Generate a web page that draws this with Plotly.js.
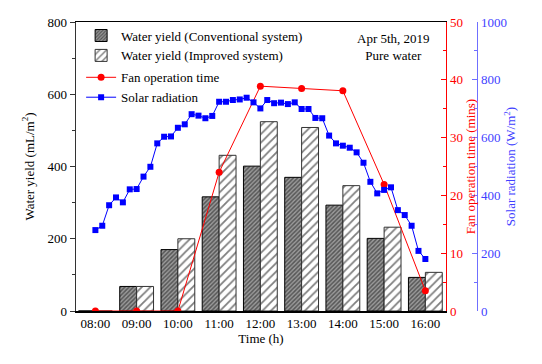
<!DOCTYPE html>
<html>
<head>
<meta charset="utf-8">
<script src="https://cdn.plot.ly/plotly-3.0.1.min.js"></script>
<style>
  html, body { margin: 0; padding: 0; background: #fff; }
  #graph { width: 542px; height: 364px; }
</style>
</head>
<body>
<div id="graph"></div>
<script>
const day = '2019-04-05 '

// hourly readings
const hours = ['08:00', '09:00', '10:00', '11:00', '12:00', '13:00', '14:00', '15:00', '16:00']
const conventional = [0, 68, 170, 316, 401, 370, 293, 201, 93]
const improved = [0, 68, 200, 431, 524, 508, 347, 232, 107]
const fanTime = [0, 0, 0, 24.0, 38.9, 38.5, 38.1, 21.9, 3.5]

// solar radiation every 10 min
const solarTimes = [
  '08:00', '08:10', '08:20', '08:30', '08:40', '08:50',
  '09:00', '09:10', '09:20', '09:30', '09:40', '09:50',
  '10:00', '10:10', '10:20', '10:30', '10:40', '10:50',
  '11:00', '11:10', '11:20', '11:30', '11:40', '11:50',
  '12:00', '12:10', '12:20', '12:30', '12:40', '12:50',
  '13:00', '13:10', '13:20', '13:30', '13:40', '13:50',
  '14:00', '14:10', '14:20', '14:30', '14:40', '14:50',
  '15:00', '15:10', '15:20', '15:30', '15:40', '15:50',
  '16:00'
]
const solar = [
  280, 295, 366, 393, 376, 421, 422, 465, 499, 580,
  603, 604, 634, 646, 681, 676, 667, 675, 724, 724,
  730, 732, 738, 722, 701, 730, 719, 721, 716, 722,
  699, 699, 668, 667, 607, 580, 572, 565, 549, 513,
  447, 407, 419, 428, 349, 332, 295, 208, 180
]

const barWidth = 0.41 * 3600000
const font = 'Liberation Serif'
const blue = '#0000ff'
const red = '#ff0000'
const axisBlue = '#6f6fff'
const textBlue = '#3f3fff'

const data = [
  {
    type: 'bar',
    name: 'Water yield (Conventional system)',
    x: hours.map(h => day + h),
    y: conventional,
    width: barWidth,
    offset: -barWidth,
    legendgroup: 'bars',
    marker: {
      color: '#7a7a7a',
      line: { color: '#000', width: 1 },
      pattern: { shape: '/', size: 3, solidity: 0.5, fgcolor: '#111', bgcolor: '#9a9a9a', fillmode: 'overlay' }
    }
  },
  {
    type: 'bar',
    name: 'Water yield (Improved system)',
    x: hours.map(h => day + h),
    y: improved,
    width: barWidth,
    offset: 0,
    legendgroup: 'bars',
    marker: {
      color: '#fff',
      line: { color: '#333', width: 1 },
      pattern: { shape: '/', size: 6, solidity: 0.3, fgcolor: '#000', bgcolor: '#fff', fillmode: 'overlay' }
    }
  },
  {
    type: 'scatter',
    mode: 'lines+markers',
    name: 'Fan operation time',
    x: hours.map(h => day + h),
    y: fanTime,
    yaxis: 'y2',
    legendgroup: 'lines',
    line: { color: red, width: 1 },
    marker: { color: red, symbol: 'circle', size: 7 }
  },
  {
    type: 'scatter',
    mode: 'lines+markers',
    name: 'Solar radiation',
    x: solarTimes.map(t => day + t),
    y: solar,
    yaxis: 'y3',
    legendgroup: 'lines',
    line: { color: blue, width: 1 },
    marker: { color: blue, symbol: 'square', size: 6 }
  }
]

const layout = {
  width: 542,
  height: 364,
  margin: { l: 76, r: 40, t: 22, b: 53 },
  paper_bgcolor: '#fff',
  plot_bgcolor: '#fff',
  font: { family: font, size: 13, color: '#000' },
  barmode: 'overlay',
  showlegend: true,
  legend: {
    x: 0.012, y: 1.005, xanchor: 'left', yanchor: 'top',
    bgcolor: 'rgba(0,0,0,0)',
    font: { family: font, size: 13 },
    tracegroupgap: 2,
    itemwidth: 30
  },
  xaxis: {
    type: 'date',
    domain: [0, 0.8685],
    range: [day + '07:31:48', day + '16:30'],
    tick0: day + '08:00',
    dtick: 3600000,
    tickformat: '%H:%M',
    ticks: '',
    showgrid: false,
    zeroline: false,
    showline: true,
    linecolor: '#000',
    linewidth: 1.5,
    mirror: true,
    tickfont: { family: font, size: 13, color: '#000' },
    title: { text: 'Time (h)', font: { family: font, size: 13 }, standoff: 2 }
  },
  yaxis: {
    range: [0, 800],
    dtick: 200,
    ticks: 'outside',
    ticklen: 5,
    tickcolor: '#333',
    minor: { dtick: 100, ticks: 'outside', ticklen: 3, tickcolor: '#333' },
    showgrid: false,
    zeroline: false,
    showline: true,
    linecolor: '#333',
    linewidth: 1.5,
    tickfont: { family: font, size: 13, color: '#000' },
    title: { text: 'Water yield (mL/m<sup>2</sup>)', font: { family: font, size: 13 }, standoff: 10 }
  },
  yaxis2: {
    overlaying: 'y',
    side: 'right',
    anchor: 'x',
    range: [0, 50],
    dtick: 10,
    ticks: 'inside',
    ticklen: 5,
    tickcolor: red,
    minor: { dtick: 5, ticks: 'inside', ticklen: 3, tickcolor: red },
    showgrid: false,
    zeroline: false,
    showline: true,
    linecolor: red,
    linewidth: 1.5,
    tickfont: { family: font, size: 13, color: red },
    title: { text: 'Fan operation time (mins)', font: { family: font, size: 13, color: red }, standoff: 0 }
  },
  yaxis3: {
    overlaying: 'y',
    side: 'right',
    anchor: 'free',
    position: 0.9413,
    range: [0, 1000],
    dtick: 200,
    ticks: 'inside',
    ticklen: 5,
    tickcolor: axisBlue,
    minor: { dtick: 100, ticks: 'inside', ticklen: 3, tickcolor: axisBlue },
    showgrid: false,
    zeroline: false,
    showline: true,
    linecolor: axisBlue,
    linewidth: 1.5,
    tickfont: { family: font, size: 13, color: textBlue },
    title: { text: 'Solar radiation (W/m<sup>2</sup>)', font: { family: font, size: 13, color: textBlue }, standoff: 0 }
  },
  annotations: [
    {
      xref: 'paper', yref: 'paper',
      x: (393 - 76) / 426, y: 1 - (47 - 22) / 289,
      xanchor: 'center', yanchor: 'middle',
      showarrow: false,
      align: 'center',
      text: 'Apr 5th, 2019<br>Pure water',
      font: { family: font, size: 13 }
    }
  ]
}

const config = {
  displayModeBar: false,
  staticPlot: true
}

Plotly.newPlot('graph', data, layout, config)
</script>
</body>
</html>
